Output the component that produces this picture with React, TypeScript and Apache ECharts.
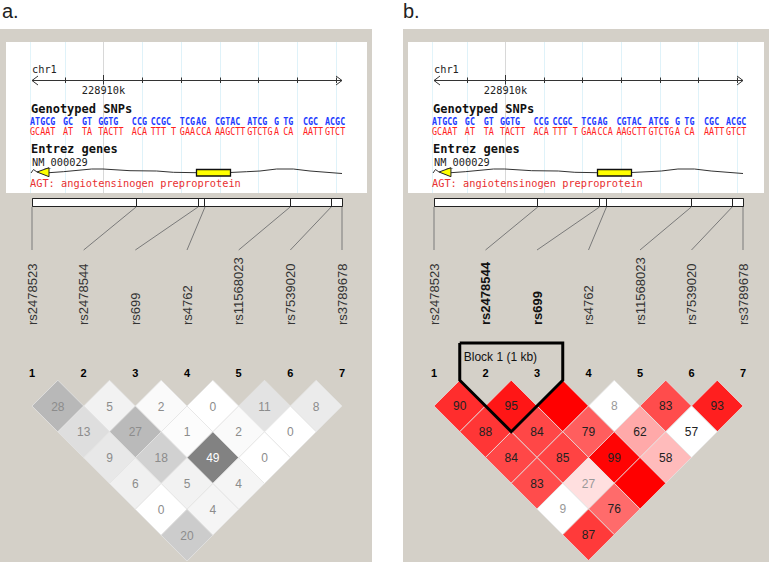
import React, { useEffect, useRef } from "react";
import * as echarts from "echarts";

// ---------- data ----------
const MARKERS = ["rs2478523", "rs2478544", "rs699", "rs4762", "rs11568023", "rs7539020", "rs3789678"];
const MARKER_NUMBERS = ["1", "2", "3", "4", "5", "6", "7"];
// physical positions (kb, chr1)
const SNP_KB = [228908.14, 228910.83, 228912.43, 228912.61, 228914.81, 228915.87, 228916.15];
const CHROM = "chr1";
const TRACK_TICKS_KB = [228909, 228910, 228911, 228912, 228913, 228914, 228915, 228916];
const TRACK_MAJOR_TICK = 228910;
const TRACK_MAJOR_LABEL = "228910k";
const ALLELE_KB = [228908.09, 228908.94, 228909.43, 228909.85, 228910.72, 228911.21, 228911.96, 228912.38, 228912.87, 228913.7, 228914.39, 228914.63, 228915.14, 228915.71];
const ALLELE_TOP = ["ATGCG", "GC", "GT", "GGTG", "CCG", "CCGC", "TCG", "AG", "CGTAC", "ATCG", "G", "TG", "CGC", "ACGC"];
const ALLELE_BOTTOM = ["GCAAT", "AT", "TA", "TACTT", "ACA", "TTT T", "GAA", "CCA", "AAGCTT", "GTCTG", "A", "CA", "AATT", "GTCT"];
const GENE_EXON_KB = [228912.38, 228913.26];
const GENE_ID = "NM_000029";
const GENE_NAME = "AGT: angiotensinogen preproprotein";
const TRACK_TITLE_SNPS = "Genotyped SNPs";
const TRACK_TITLE_GENES = "Entrez genes";

// panel a: r² x100, rows by marker distance (row 1 = adjacent markers)
const R2_ROWS = [[28, 5, 2, 0, 11, 8], [13, 27, 1, 2, 0], [9, 18, 49, 0], [6, 5, 4], [0, 4], [20]];
// panel b: D' x100 (100 = not printed)
const DPRIME_ROWS = [[90, 95, 100, 8, 83, 93], [88, 84, 79, 62, 57], [84, 85, 99, 58], [83, 27, 100], [9, 76], [87]];
// panel b: LOD >= 2 flags
const LOD_SIG_ROWS = [[1, 1, 1, 0, 1, 1], [1, 1, 1, 1, 0], [1, 1, 1, 1], [1, 1, 1], [0, 1], [1]];
const BLOCKS_B = [{ name: "Block 1 (1 kb)", first: 2, last: 3 }];

// ---------- layout ----------
const GRID_TOP = 380.2;
const PANELS = [
  { tag: "a.", tagX: 2, gray: [0, 372], white: [6, 367], left: 32, width: 310, mode: "r2" },
  { tag: "b.", tagX: 403, gray: [403, 769], white: [408, 764], left: 434, width: 309, mode: "dprime" },
];
const MONO = '"DejaVu Sans Mono", monospace';
const SANS = '"Liberation Sans", Arial, sans-serif';

const crisp = (v: number) => Math.round(v - 0.5) + 0.5;

function txt(text: string, x: number, y: number, font: string, fill: string, align = "left", valign = "middle", extra: any = {}) {
  return {
    type: "text",
    x,
    y,
    ...extra,
    style: { text, x: 0, y: 0, font, fill, align, verticalAlign: valign, textAlign: align, textVerticalAlign: valign },
  };
}

function buildCells(rows: number[][], sig?: number[][]) {
  const out: number[][] = [];
  rows.forEach((row, r) =>
    row.forEach((v, k) => {
      const i = k + 1;
      const j = k + 2 + r;
      out.push([(i + j) / 2, r + 1, v, sig ? sig[r][k] : 1]);
    })
  );
  return out;
}

function cellColor(mode: string, v: number, sig: number) {
  if (mode === "r2") {
    const g = Math.round(255 * (1 - v / 100));
    return `rgb(${g},${g},${g})`;
  }
  if (!sig) return "#ffffff";
  if (v >= 100) return "#ff0000";
  const bg = Math.min(223, Math.round(223 * 2 * (1 - v / 100)));
  return `rgb(255,${bg},${bg})`;
}

function textColor(mode: string, v: number) {
  if (mode === "r2") return v >= 40 ? "#ffffff" : "#8c8c8c";
  return v >= 50 ? "#222222" : "#999999";
}

function buildOption() {
  const grid: any[] = [];
  const xAxis: any[] = [];
  const yAxis: any[] = [];
  const series: any[] = [];
  const graphic: any[] = [];

  PANELS.forEach((P, p) => {
    const rowH = P.width / 12;
    grid.push({ left: P.left, top: GRID_TOP, width: P.width, height: rowH * 7 });
    xAxis.push({ gridIndex: p, type: "value", min: SNP_KB[0], max: SNP_KB[SNP_KB.length - 1], show: false, position: "bottom" });
    xAxis.push({
      gridIndex: p,
      type: "value",
      position: "top",
      min: 1,
      max: MARKERS.length,
      interval: 1,
      axisLine: { show: false },
      axisTick: { show: false },
      splitLine: { show: false },
      axisLabel: {
        margin: 2,
        color: "#000",
        fontWeight: "bold",
        fontSize: 11,
        fontFamily: SANS,
        formatter: (v: number) => MARKER_NUMBERS[Math.round(v) - 1] || "",
      },
    });
    yAxis.push({ gridIndex: p, type: "value", min: 0, max: 7, inverse: true, show: false });
    const gx = 2 * p;
    const ix = 2 * p + 1;

    // backgrounds & static text
    graphic.push({ type: "rect", z: -10, shape: { x: P.gray[0], y: 29, width: P.gray[1] - P.gray[0], height: 533 }, style: { fill: "#d4d0c8" } });
    graphic.push({ type: "rect", z: -9, shape: { x: P.white[0], y: 42, width: P.white[1] - P.white[0], height: 151 }, style: { fill: "#ffffff" } });
    graphic.push({ type: "line", z: -8, shape: { x1: crisp(P.left - 2), y1: 42, x2: crisp(P.left - 2), y2: 193 }, style: { stroke: "#e2f4fa", lineWidth: 1 } });
    graphic.push({ ...txt(P.tag, P.tagX, 11, `20px ${SANS}`, "#222"), z: 10 });
    graphic.push({ ...txt(CHROM, P.left, 69, `10.3px ${MONO}`, "#222"), z: 10 });
    graphic.push({ ...txt(TRACK_TITLE_SNPS, P.left - 1, 109, `bold 12px ${MONO}`, "#111"), z: 10 });
    graphic.push({ ...txt(TRACK_TITLE_GENES, P.left - 1, 149, `bold 12px ${MONO}`, "#111"), z: 10 });
    graphic.push({ ...txt(GENE_ID, P.left, 162, `10.3px ${MONO}`, "#222"), z: 10 });
    graphic.push({ ...txt(GENE_NAME, P.left - 2, 183, `10.3px ${MONO}`, "#e83030"), z: 10 });

    // track ticks + vertical grid lines
    series.push({
      type: "custom",
      xAxisIndex: gx,
      yAxisIndex: p,
      z: 2,
      data: TRACK_TICKS_KB.map((k) => [k, 0]),
      renderItem: (params: any, api: any) => {
        const kb = api.value(0);
        const x = crisp(api.coord([kb, 0])[0]);
        const major = kb === TRACK_MAJOR_TICK;
        const children: any[] = [
          { type: "line", shape: { x1: x, y1: 42, x2: x, y2: 193 }, style: { stroke: major ? "#d8d8d8" : "#dff2f9", lineWidth: 1 } },
          { type: "line", shape: { x1: x, y1: major ? 75 : 77.5, x2: x, y2: major ? 84.5 : 83 }, style: { stroke: "#333", lineWidth: 1 } },
        ];
        if (major) children.push(txt(TRACK_MAJOR_LABEL, x, 90, `10.3px ${MONO}`, "#222", "center"));
        return { type: "group", children };
      },
    });

    // track axis line with arrows
    series.push({
      type: "custom",
      xAxisIndex: gx,
      yAxisIndex: p,
      z: 3,
      data: [[SNP_KB[0], 0, SNP_KB[SNP_KB.length - 1]]],
      renderItem: (params: any, api: any) => {
        const x0 = api.coord([api.value(0), 0])[0];
        const x1 = api.coord([api.value(2), 0])[0];
        const y = 80.5;
        return {
          type: "group",
          children: [
            { type: "line", shape: { x1: x0, y1: y, x2: x1, y2: y }, style: { stroke: "#333", lineWidth: 1 } },
            { type: "polyline", shape: { points: [[x0 + 6, y - 4.5], [x0, y], [x0 + 6, y + 4.5]] }, style: { stroke: "#333", lineWidth: 1, fill: "none" } },
            { type: "polyline", shape: { points: [[x1 - 6, y - 4.5], [x1, y], [x1 - 6, y + 4.5]] }, style: { stroke: "#333", lineWidth: 1, fill: "none" } },
          ],
        };
      },
    });

    // allele letters
    series.push({
      type: "custom",
      xAxisIndex: gx,
      yAxisIndex: p,
      z: 4,
      data: ALLELE_KB.map((k) => [k, 0]),
      renderItem: (params: any, api: any) => {
        const x = api.coord([api.value(0), 0])[0];
        const i = params.dataIndex;
        return {
          type: "group",
          children: [
            txt(ALLELE_TOP[i], x, 121, `bold 10.5px ${MONO}`, "#1f3cff", "left", "middle", { scaleX: 0.8 }),
            txt(ALLELE_BOTTOM[i], x, 131.5, `10.5px ${MONO}`, "#ff2020", "left", "middle", { scaleX: 0.8 }),
          ],
        };
      },
    });

    // gene model
    series.push({
      type: "custom",
      xAxisIndex: gx,
      yAxisIndex: p,
      z: 4,
      data: [[GENE_EXON_KB[0], 0, GENE_EXON_KB[1]]],
      renderItem: (params: any, api: any) => {
        const L = params.coordSys.x;
        const s = params.coordSys.width / 310;
        const e0 = api.coord([api.value(0), 0])[0];
        const e1 = api.coord([api.value(2), 0])[0];
        const rel = (pts: number[][]) => pts.map(([dx, y]) => [L + dx * s, y]);
        const leftIntron = rel([[17, 172.7], [31.3, 171.7], [59.7, 169], [71, 169], [98, 170.7], [124.7, 171], [141.3, 172.3]]).concat([[e0, 172.7]]);
        const rightIntron = [[e1, 172.5]].concat(rel([[214.7, 171.7], [228, 171], [244.7, 169], [261.3, 169], [278, 171], [310, 173.5]]));
        return {
          type: "group",
          children: [
            { type: "polyline", shape: { points: rel([[-1, 173], [1.5, 169.5], [5, 172]]) }, style: { stroke: "#333", lineWidth: 1, fill: "none" } },
            { type: "polyline", shape: { points: leftIntron }, style: { stroke: "#333", lineWidth: 1, fill: "none" } },
            { type: "polyline", shape: { points: rightIntron }, style: { stroke: "#333", lineWidth: 1, fill: "none" } },
            { type: "polygon", shape: { points: rel([[5, 172], [17, 167.7], [17, 176.7]]) }, style: { fill: "#ffff00", stroke: "#222", lineWidth: 1 } },
            { type: "rect", shape: { x: crisp(e0), y: 169.5, width: Math.round(e1 - e0), height: 6.5 }, style: { fill: "#ffff00", stroke: "#111", lineWidth: 1.3 } },
          ],
        };
      },
    });

    // SNP position bar
    series.push({
      type: "custom",
      xAxisIndex: gx,
      yAxisIndex: p,
      z: 4,
      data: SNP_KB.map((k) => [k, 0]),
      renderItem: (params: any, api: any) => {
        const x = crisp(api.coord([api.value(0), 0])[0]);
        const children: any[] = [];
        if (params.dataIndex === 0) {
          const xe = crisp(api.coord([SNP_KB[SNP_KB.length - 1], 0])[0]);
          children.push({ type: "rect", shape: { x, y: 198.5, width: xe - x, height: 8 }, style: { fill: "#ffffff", stroke: "#222", lineWidth: 1 } });
        }
        children.push({ type: "line", shape: { x1: x, y1: 198.5, x2: x, y2: 206.5 }, style: { stroke: "#222", lineWidth: 1 } });
        return { type: "group", children };
      },
    });

    // connectors from position bar to marker labels
    series.push({
      type: "custom",
      xAxisIndex: gx,
      yAxisIndex: p,
      z: 4,
      data: SNP_KB.map((k) => [k, 0]),
      renderItem: (params: any, api: any) => {
        const x = api.coord([api.value(0), 0])[0];
        const n = SNP_KB.length - 1;
        const lx = params.coordSys.x + (params.dataIndex / n) * params.coordSys.width;
        return { type: "line", shape: { x1: x, y1: 207, x2: lx, y2: 250 }, style: { stroke: "#7a7a7a", lineWidth: 1 } };
      },
    });

    // rotated marker names
    const boldSet = P.mode === "dprime" ? BLOCKS_B : [];
    series.push({
      type: "custom",
      xAxisIndex: ix,
      yAxisIndex: p,
      z: 4,
      data: MARKERS.map((_, k) => [k + 1, 0]),
      renderItem: (params: any, api: any) => {
        const idx = api.value(0);
        const x = api.coord([idx, 0])[0];
        const bold = boldSet.some((b) => idx >= b.first && idx <= b.last);
        return txt(MARKERS[params.dataIndex], x, 325, `${bold ? "bold " : ""}13px ${SANS}`, bold ? "#111" : "#333", "left", "middle", { rotation: Math.PI / 2 });
      },
    });

    // LD diamonds
    const cells = P.mode === "r2" ? buildCells(R2_ROWS) : buildCells(DPRIME_ROWS, LOD_SIG_ROWS);
    series.push({
      type: "custom",
      xAxisIndex: ix,
      yAxisIndex: p,
      z: 5,
      data: cells,
      renderItem: (params: any, api: any) => {
        const cx = api.value(0);
        const cy = api.value(1);
        const v = api.value(2);
        const sig = api.value(3);
        const pts = [[cx, cy - 1], [cx + 0.5, cy], [cx, cy + 1], [cx - 0.5, cy]].map((q) => api.coord(q));
        const c = api.coord([cx, cy]);
        const children: any[] = [
          { type: "polygon", shape: { points: pts }, style: { fill: cellColor(P.mode, v, sig), stroke: "rgba(228,228,228,0.75)", lineWidth: 1 } },
        ];
        if (v < 100) children.push(txt(String(v), c[0], c[1] + 0.5, `12px ${SANS}`, textColor(P.mode, v), "center"));
        return { type: "group", children };
      },
    });

    // haplotype blocks
    if (P.mode === "dprime") {
      series.push({
        type: "custom",
        xAxisIndex: ix,
        yAxisIndex: p,
        z: 6,
        data: BLOCKS_B.map((b) => [b.first, b.last]),
        renderItem: (params: any, api: any) => {
          const first = api.value(0);
          const last = api.value(1);
          const lx = first - 0.5;
          const rx = last + 0.5;
          const mx = (first + last) / 2;
          const top = 343;
          const pl = api.coord([lx, 0]);
          const pr = api.coord([rx, 0]);
          const pb = api.coord([mx, (mx - lx) * 2]);
          return {
            type: "group",
            children: [
              { type: "polyline", shape: { points: [[pl[0], top], pl, pb, pr, [pr[0], top], [pl[0], top]] }, style: { stroke: "#000", lineWidth: 3, fill: "none", lineJoin: "miter" } },
              txt(BLOCKS_B[params.dataIndex].name, pl[0] + 4, 357, `12px ${SANS}`, "#111"),
            ],
          };
        },
      });
    }
  });

  return { animation: false, backgroundColor: "#ffffff", grid, xAxis, yAxis, series, graphic };
}

export default function App() {
  const ref = useRef<HTMLDivElement>(null);
  useEffect(() => {
    const chart = echarts.init(ref.current!, undefined, { renderer: "svg" });
    chart.setOption(buildOption() as any);
    return () => chart.dispose();
  }, []);
  return <div ref={ref} style={{ position: "fixed", left: 0, top: 0, width: 774, height: 563 }} />;
}
